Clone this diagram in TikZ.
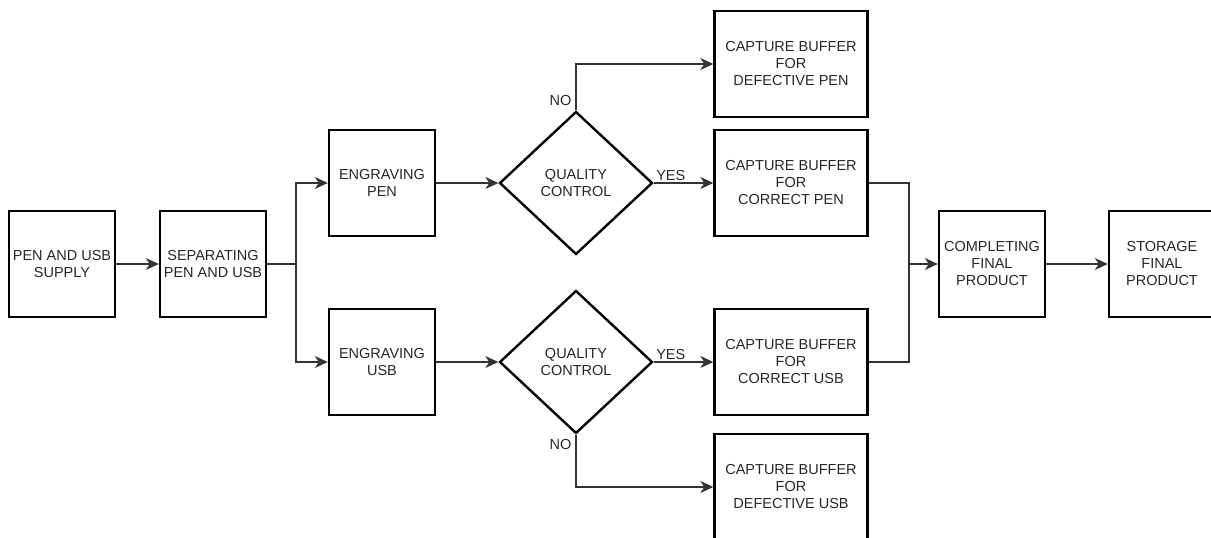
\documentclass[tikz,border=0pt]{standalone}
\usepackage{fontspec}
\setmainfont{Liberation Sans}
\usetikzlibrary{arrows.meta,shapes.geometric}

\begin{document}
\begin{tikzpicture}[x=1pt,y=-1pt,font=\fontsize{14.5}{17}\selectfont,text=black!85,
  box/.style={draw=black,line width=2.4pt,minimum width=106pt,minimum height=106pt,align=center,inner sep=1pt},
  buffer/.style={box,minimum width=153pt},
  decision/.style={draw=black,diamond,line width=2.4pt,minimum width=153pt,minimum height=143pt,aspect=1.07,inner sep=0pt,align=center},
  flow/.style={draw=black!80,line width=1.2pt,-{Stealth[length=13pt,width=12pt,inset=4pt]}},
  link/.style={draw=black!80,line width=1.2pt}]
\useasboundingbox (0,0) rectangle (1211,538);
\node[box] (supply) at (62,264) {PEN AND USB\\SUPPLY};
\node[box] (sep) at (213,264) {SEPARATING\\PEN AND USB};
\node[box] (engpen) at (382,183) {ENGRAVING\\PEN};
\node[box] (engusb) at (382,362) {ENGRAVING\\USB};
\node[decision] (qcpen) at (576,183) {QUALITY\\CONTROL};
\node[decision] (qcusb) at (576,362) {QUALITY\\CONTROL};
\node[buffer] (defpen) at (791,64) {CAPTURE BUFFER\\FOR\\DEFECTIVE PEN};
\node[buffer] (corpen) at (791,183) {CAPTURE BUFFER\\FOR\\CORRECT PEN};
\node[buffer] (corusb) at (791,362) {CAPTURE BUFFER\\FOR\\CORRECT USB};
\node[buffer] (defusb) at (791,487) {CAPTURE BUFFER\\FOR\\DEFECTIVE USB};
\node[box] (final) at (992,264) {COMPLETING\\FINAL\\PRODUCT};
\node[box] (storage) at (1162,264) {STORAGE\\FINAL\\PRODUCT};
\coordinate (split) at (296,264);
\coordinate (merge) at (909,264);
\draw[flow] (supply) -- (sep);
\draw[link] (sep) -- (split);
\draw[flow] (split) |- (engpen);
\draw[flow] (split) |- (engusb);
\draw[flow] (engpen) -- (qcpen);
\draw[flow] (engusb) -- (qcusb);
\draw[flow] (qcpen.east) -- node[at start,anchor=south west,inner sep=2pt] {YES} (corpen);
\draw[flow] (qcusb.east) -- node[at start,anchor=south west,inner sep=2pt] {YES} (corusb);
\draw[flow] (qcpen.north) node[anchor=south east,inner sep=4pt] {NO} |- (defpen);
\draw[flow] (qcusb.south) node[anchor=north east,inner sep=4pt] {NO} |- (defusb);
\draw[link] (corpen) -| (merge);
\draw[link] (corusb) -| (merge);
\draw[flow] (merge) -- (final);
\draw[flow] (final) -- (storage);
\end{tikzpicture}
\end{document}
